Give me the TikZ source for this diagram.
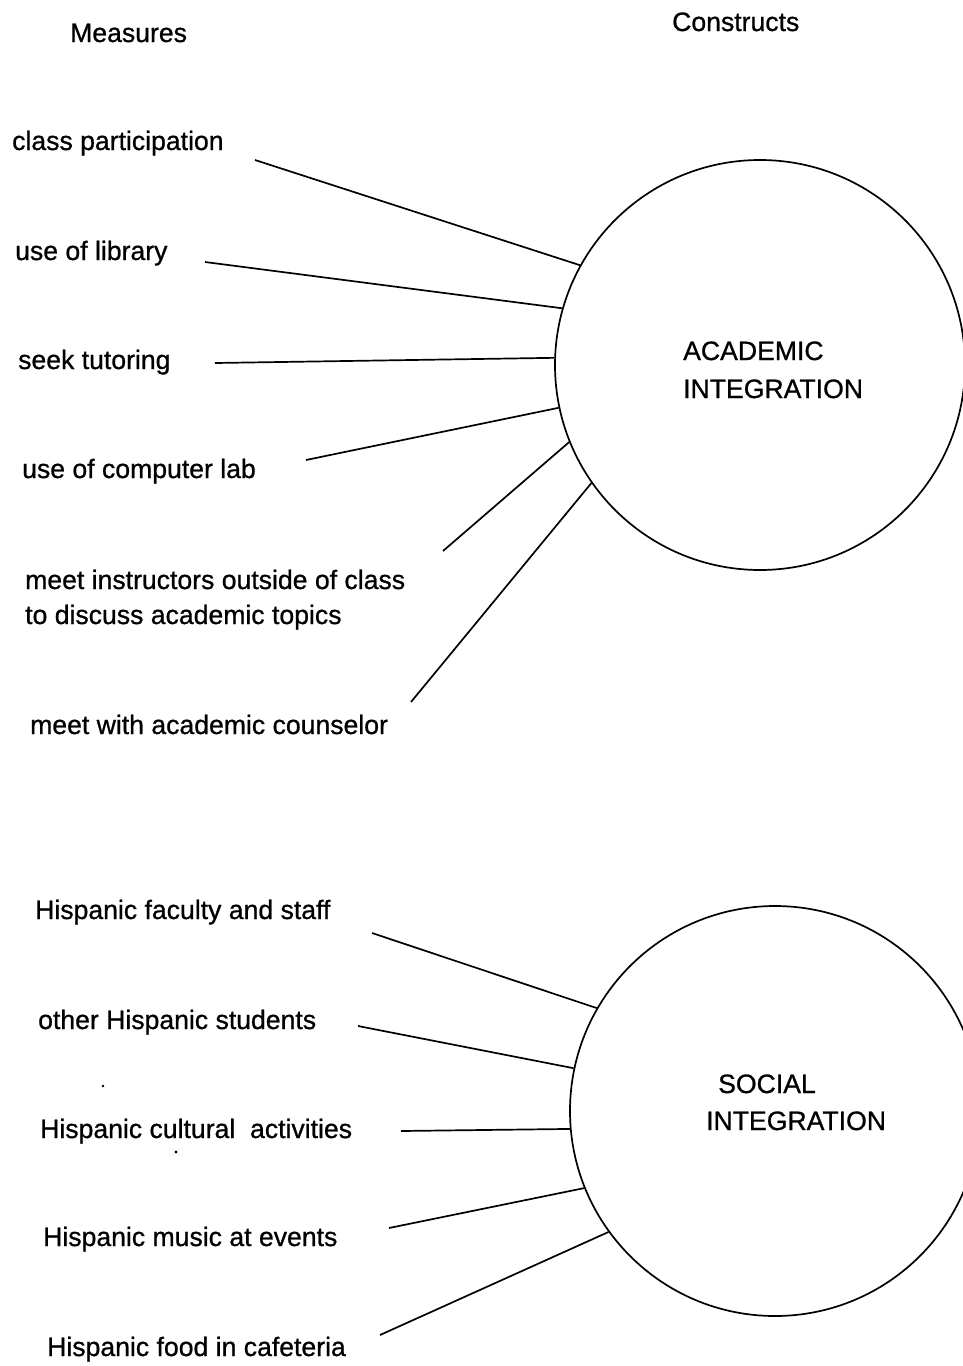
\documentclass[tikz,border=0pt]{standalone}
\usepackage{fontspec}
\setmainfont[FakeBold=0.8]{Liberation Sans}
\begin{document}
\begin{tikzpicture}[x=1pt,y=-1pt,
  lbl/.style={anchor=base west, inner sep=0pt, font=\fontsize{26.6}{30}\selectfont},
  construct/.style={circle, draw, line width=1.7pt, minimum size=410pt, inner sep=0pt},
  link/.style={line width=1.7pt},
  speck/.style={fill=black}]
\clip (0,0) rectangle (963,1366);
\fill[white] (0,0) rectangle (963,1366);

% headings
\node[lbl] (hm) at (70,42) {Measures};
\node[lbl] (hc) at (672,31) {Constructs};

% academic construct
\node[construct] (ai) at (760,365) {};
\node[lbl] (ai1) at (683,360) {ACADEMIC};
\node[lbl] (ai2) at (683,398) {INTEGRATION};

% academic measures
\node[lbl] (m1) at (12,150) {class participation};
\node[lbl] (m2) at (15,260) {use of library};
\node[lbl] (m3) at (18,369) {seek tutoring};
\node[lbl] (m4) at (22,478) {use of computer lab};
\node[lbl] (m5a) at (25,589) {meet instructors outside of class};
\node[lbl] (m5b) at (25,624) {to discuss academic topics};
\node[lbl] (m6) at (30,734) {meet with academic counselor};

\coordinate (a1) at (255,160);
\coordinate (a2) at (205,262);
\coordinate (a3) at (215,363);
\coordinate (a4) at (306,460);
\coordinate (a5) at (443,551);
\coordinate (a6) at (411,702);
\draw[link] (a1) -- (ai.151.5);
\draw[link] (a2) -- (ai.164.6);
\draw[link] (a3) -- (ai.178.6);
\draw[link] (a4) -- (ai.192.9);
\draw[link] (a5) -- (ai.202.4);
\draw[link] (a6) -- (ai.215.4);

% social construct
\node[construct] (si) at (775,1111) {};
\node[lbl] (si1) at (718,1093) {SOCIAL};
\node[lbl] (si2) at (706,1130) {INTEGRATION};

% social measures
\node[lbl] (s1) at (35,919) {Hispanic faculty and staff};
\node[lbl] (s2) at (38,1029) {other Hispanic students};
\node[lbl] (s3) at (40,1138) {Hispanic cultural\ \ activities};
\node[lbl] (s4) at (43,1246) {Hispanic music at events};
\node[lbl] (s5) at (47,1356) {Hispanic food in cafeteria};

\coordinate (b1) at (372,933);
\coordinate (b2) at (358,1026);
\coordinate (b3) at (401,1131);
\coordinate (b4) at (389,1228);
\coordinate (b5) at (380,1335);
\draw[link] (b1) -- (si.150);
\draw[link] (b2) -- (si.168.5);
\draw[link] (b3) -- (si.185);
\draw[link] (b4) -- (si.202);
\draw[link] (b5) -- (si.216.5);

% scan specks
\fill[speck] (103,1086) circle (1.3pt);
\fill[speck] (176,1152) circle (1.6pt);
\end{tikzpicture}
\end{document}
